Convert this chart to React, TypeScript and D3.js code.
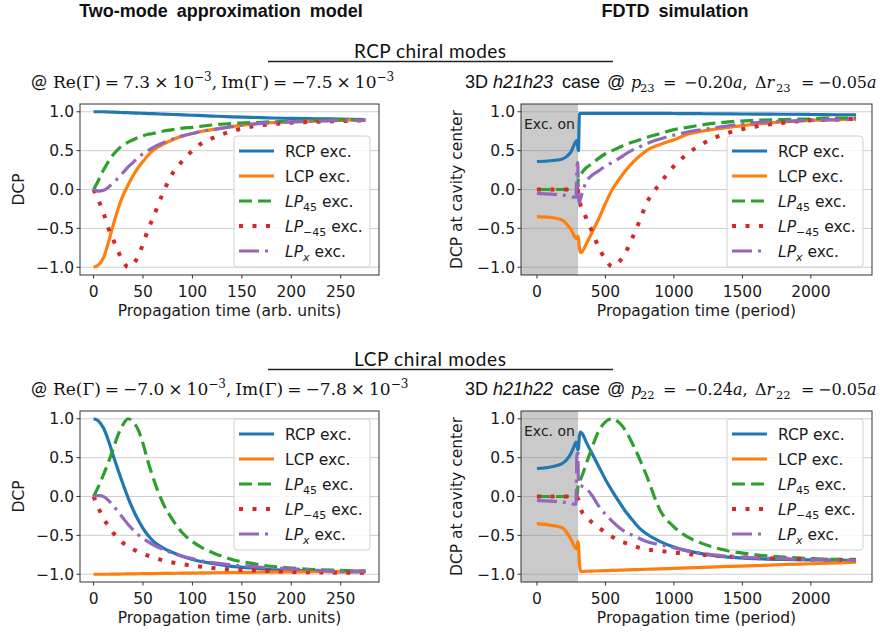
import React from "react";
import * as d3 from "d3";

// ---------------- data ----------------
// Two-mode approximation model (time in arb. units)
const T_MODEL = [0, 5, 10, 15, 20, 25, 30, 35, 40, 45, 50, 55, 60, 70, 80, 90, 100, 110, 120, 140, 160, 180, 200, 225, 250, 275];

// RCP chiral modes, model
const M1_RCP = [1.0, 1.0, 1.0, 0.997, 0.995, 0.993, 0.99, 0.988, 0.985, 0.982, 0.98, 0.977, 0.975, 0.97, 0.965, 0.96, 0.955, 0.95, 0.945, 0.935, 0.928, 0.92, 0.915, 0.91, 0.905, 0.9];
const M1_LCP = [-1.0, -0.97, -0.88, -0.68, -0.45, -0.24, -0.07, 0.06, 0.18, 0.28, 0.36, 0.44, 0.5, 0.58, 0.64, 0.69, 0.72, 0.75, 0.77, 0.81, 0.84, 0.86, 0.87, 0.88, 0.89, 0.9];
const M1_LP45 = [0, 0.12, 0.25, 0.36, 0.45, 0.52, 0.57, 0.61, 0.64, 0.67, 0.69, 0.71, 0.72, 0.75, 0.77, 0.79, 0.8, 0.815, 0.83, 0.85, 0.86, 0.87, 0.88, 0.89, 0.9, 0.9];
const M1_LPM45 = [0, -0.14, -0.3, -0.5, -0.65, -0.8, -0.93, -1.0, -0.96, -0.86, -0.7, -0.52, -0.37, -0.05, 0.21, 0.37, 0.5, 0.6, 0.66, 0.75, 0.81, 0.84, 0.86, 0.87, 0.88, 0.89];
const M1_LPX = [0, -0.02, -0.01, 0.03, 0.09, 0.15, 0.22, 0.29, 0.35, 0.41, 0.46, 0.5, 0.54, 0.6, 0.65, 0.69, 0.72, 0.75, 0.77, 0.81, 0.84, 0.86, 0.87, 0.88, 0.89, 0.89];

// LCP chiral modes, model
const M2_RCP = [1.0, 0.97, 0.88, 0.72, 0.52, 0.33, 0.15, -0.02, -0.17, -0.3, -0.41, -0.5, -0.57, -0.66, -0.72, -0.77, -0.81, -0.84, -0.86, -0.9, -0.92, -0.94, -0.95, -0.96, -0.97, -0.97];
const M2_LCP = [-1, -1, -1, -1, -0.999, -0.998, -0.997, -0.996, -0.995, -0.994, -0.993, -0.992, -0.991, -0.99, -0.988, -0.986, -0.985, -0.983, -0.981, -0.978, -0.975, -0.972, -0.97, -0.967, -0.963, -0.96];
const M2_LP45 = [0, 0.13, 0.28, 0.44, 0.62, 0.8, 0.93, 1.0, 0.96, 0.86, 0.68, 0.45, 0.25, -0.08, -0.3, -0.47, -0.58, -0.66, -0.72, -0.81, -0.86, -0.9, -0.92, -0.94, -0.95, -0.96];
const M2_LPM45 = [0, -0.15, -0.28, -0.38, -0.47, -0.54, -0.6, -0.64, -0.68, -0.71, -0.74, -0.76, -0.78, -0.82, -0.85, -0.87, -0.89, -0.905, -0.92, -0.94, -0.95, -0.96, -0.97, -0.975, -0.98, -0.98];
const M2_LPX = [0, 0.01, 0.0, -0.05, -0.12, -0.2, -0.28, -0.36, -0.43, -0.49, -0.54, -0.58, -0.62, -0.68, -0.73, -0.77, -0.8, -0.83, -0.85, -0.88, -0.9, -0.92, -0.93, -0.95, -0.96, -0.96];

// FDTD simulation (time in periods)
const T_FDTD = [0, 100, 180, 220, 250, 270, 285, 292, 298, 303, 310, 318, 330, 360, 400, 450, 500, 550, 600, 650, 700, 750, 800, 900, 1000, 1100, 1200, 1400, 1600, 1800, 2000, 2200, 2330];

// h21h23 case (RCP chiral modes)
const F1_RCP = [0.36, 0.37, 0.39, 0.43, 0.49, 0.57, 0.62, 0.63, 0.55, 0.5, 0.97, 0.98, 0.98, 0.98, 0.98, 0.98, 0.98, 0.98, 0.98, 0.98, 0.98, 0.98, 0.98, 0.98, 0.978, 0.976, 0.975, 0.973, 0.97, 0.968, 0.965, 0.962, 0.96];
const F1_LCP = [-0.35, -0.36, -0.39, -0.45, -0.52, -0.59, -0.63, -0.63, -0.6, -0.62, -0.75, -0.81, -0.8, -0.7, -0.56, -0.38, -0.18, 0.0, 0.13, 0.25, 0.35, 0.43, 0.5, 0.58, 0.64, 0.71, 0.75, 0.8, 0.84, 0.87, 0.89, 0.9, 0.91];
const F1_LP45 = [0, 0, 0, 0, 0, 0, 0, 0, 0.05, 0.15, 0.17, 0.19, 0.22, 0.28, 0.33, 0.4, 0.46, 0.5, 0.54, 0.58, 0.61, 0.64, 0.67, 0.72, 0.77, 0.8, 0.83, 0.87, 0.89, 0.9, 0.91, 0.92, 0.92];
const F1_LPM45 = [0, 0, 0, 0, 0, 0, 0, 0, 0, -0.05, -0.12, -0.2, -0.25, -0.37, -0.53, -0.74, -0.9, -0.99, -0.93, -0.8, -0.61, -0.4, -0.18, 0.08, 0.3, 0.46, 0.58, 0.73, 0.81, 0.86, 0.89, 0.9, 0.91];
const F1_LPX = [-0.05, -0.06, -0.07, -0.08, -0.09, -0.1, -0.1, 0.3, 0.35, -0.1, -0.17, -0.12, -0.05, 0.1, 0.18, 0.24, 0.3, 0.35, 0.4, 0.46, 0.51, 0.55, 0.59, 0.65, 0.7, 0.74, 0.77, 0.82, 0.86, 0.88, 0.89, 0.9, 0.9];

// h21h22 case (LCP chiral modes)
const F2_RCP = [0.36, 0.38, 0.42, 0.48, 0.56, 0.64, 0.7, 0.68, 0.6, 0.62, 0.78, 0.83, 0.81, 0.7, 0.56, 0.39, 0.22, 0.07, -0.07, -0.2, -0.31, -0.41, -0.48, -0.58, -0.65, -0.7, -0.735, -0.78, -0.8, -0.81, -0.815, -0.82, -0.82];
const F2_LCP = [-0.35, -0.37, -0.4, -0.47, -0.56, -0.63, -0.67, -0.66, -0.58, -0.62, -0.85, -0.96, -0.965, -0.962, -0.96, -0.957, -0.954, -0.951, -0.948, -0.945, -0.942, -0.939, -0.936, -0.93, -0.925, -0.918, -0.912, -0.9, -0.89, -0.875, -0.865, -0.855, -0.845];
const F2_LP45 = [0, 0, 0, 0, 0, 0, 0, 0, 0.1, 0.18, 0.2, 0.22, 0.27, 0.42, 0.62, 0.84, 0.96, 1.0, 0.95, 0.84, 0.67, 0.48, 0.27, -0.18, -0.39, -0.52, -0.6, -0.7, -0.75, -0.78, -0.8, -0.81, -0.81];
const F2_LPM45 = [0, 0, 0, 0, 0, 0, 0, 0, -0.03, -0.04, -0.08, -0.15, -0.2, -0.26, -0.33, -0.4, -0.46, -0.52, -0.57, -0.6, -0.63, -0.66, -0.68, -0.7, -0.72, -0.74, -0.75, -0.77, -0.79, -0.8, -0.81, -0.815, -0.82];
const F2_LPX = [-0.05, -0.06, -0.07, -0.08, -0.09, -0.1, -0.1, 0.55, 0.6, 0.2, 0.14, 0.14, 0.13, 0.1, 0.02, -0.12, -0.23, -0.32, -0.4, -0.46, -0.5, -0.54, -0.58, -0.62, -0.66, -0.7, -0.73, -0.77, -0.79, -0.8, -0.81, -0.82, -0.82];

const X_TICKS_MODEL = [0, 50, 100, 150, 200, 250];
const X_TICKS_FDTD = [0, 500, 1000, 1500, 2000];
const Y_TICKS = [-1.0, -0.5, 0.0, 0.5, 1.0];
const EXC_END = 300;
const SERIES_KEYS = ["RCP", "LCP", "LP45", "LPM45", "LPX"];

// ---------------- styles ----------------
const STYLE: Record<string, { color: string; dash?: string; w: number }> = {
  RCP: { color: "#1f77b4", w: 3.2 },
  LCP: { color: "#ff7f0e", w: 3.2 },
  LP45: { color: "#2ca02c", dash: "13 6", w: 3.2 },
  LPM45: { color: "#d62728", dash: "4 9.5", w: 4 },
  LPX: { color: "#9467bd", dash: "20 6 3 6", w: 3.2 },
};

const SANS = "'DejaVu Sans', sans-serif";
const FS = 15.5;

function LegendLabel({ k, x, y }: { k: string; x: number; y: number }) {
  const common = { x, y, fontFamily: SANS, fontSize: FS, fill: "#1a1a1a" } as any;
  if (k === "RCP") return <text {...common}>RCP exc.</text>;
  if (k === "LCP") return <text {...common}>LCP exc.</text>;
  const sub = k === "LP45" ? "45" : k === "LPM45" ? "\u221245" : "x";
  return (
    <text {...common}>
      <tspan fontStyle="italic">LP</tspan>
      <tspan fontSize={11} dy={4} fontStyle={k === "LPX" ? "italic" : "normal"}>{sub}</tspan>
      <tspan dy={-4}> exc.</tspan>
    </text>
  );
}

type Geo = { l: number; r: number; t: number; b: number };

function Panel(props: {
  id: string; g: Geo; times: number[]; data: number[][]; xTicks: number[]; xMax: number;
  yLabel: string; yLabelX: number; xLabel: string; shade: boolean; legendTop: number;
}) {
  const { id, g, times, data, xTicks, xMax, yLabel, yLabelX, xLabel, shade, legendTop } = props;
  const pad = xMax * 0.05;
  const x = d3.scaleLinear().domain([-pad, xMax + pad]).range([g.l, g.r]);
  const y = d3.scaleLinear().domain([-1.1, 1.1]).range([g.b, g.t]);
  const line = d3.line<number>().x((_, i) => x(times[i])).y((d) => y(d)).curve(d3.curveMonotoneX);
  const fmtY = d3.format(".1f");
  const legW = 136, legH = 131;
  const legL = g.r - 9 - legW;
  return (
    <g>
      <defs>
        <clipPath id={id}>
          <rect x={g.l} y={g.t} width={g.r - g.l} height={g.b - g.t} />
        </clipPath>
      </defs>
      {Y_TICKS.map((v) => (
        <line key={v} x1={g.l} x2={g.r} y1={y(v)} y2={y(v)} stroke="#cfcfcf" strokeWidth={1} />
      ))}
      {shade && (
        <rect x={g.l} y={g.t} width={x(EXC_END) - g.l} height={g.b - g.t} fill="#808080" fillOpacity={0.42} />
      )}
      {shade && (
        <text x={g.l + 3} y={g.t + 25} fontFamily={SANS} fontSize={14} fill="#222">Exc. on</text>
      )}
      <g clipPath={`url(#${id})`}>
        {SERIES_KEYS.map((k, i) => (
          <path key={k} d={line(data[i]) || ""} fill="none" stroke={STYLE[k].color} strokeWidth={STYLE[k].w}
            strokeDasharray={STYLE[k].dash} strokeLinejoin="round" />
        ))}
      </g>
      {/* legend */}
      <rect x={legL} y={legendTop} width={legW} height={legH} rx={3} fill="white" fillOpacity={0.8} stroke="#d0d0d0" strokeWidth={1} />
      {SERIES_KEYS.map((k, i) => {
        const cy = legendTop + 15 + i * 25;
        return (
          <g key={k}>
            <line x1={legL + 5} x2={legL + 40} y1={cy} y2={cy} stroke={STYLE[k].color} strokeWidth={STYLE[k].w}
              strokeDasharray={STYLE[k].dash} />
            <LegendLabel k={k} x={legL + 51} y={cy + 5.5} />
          </g>
        );
      })}
      <rect x={g.l} y={g.t} width={g.r - g.l} height={g.b - g.t} fill="none" stroke="#333" strokeWidth={1} />
      {Y_TICKS.map((v) => (
        <g key={v}>
          <line x1={g.l - 3.5} x2={g.l} y1={y(v)} y2={y(v)} stroke="#333" strokeWidth={1} />
          <text x={g.l - 6} y={y(v) + 5.5} textAnchor="end" fontFamily={SANS} fontSize={FS} fill="#1a1a1a">{fmtY(v)}</text>
        </g>
      ))}
      {xTicks.map((v) => (
        <g key={v}>
          <line x1={x(v)} x2={x(v)} y1={g.b} y2={g.b + 3.5} stroke="#333" strokeWidth={1} />
          <text x={x(v)} y={g.b + 22} textAnchor="middle" fontFamily={SANS} fontSize={FS} fill="#1a1a1a">{v}</text>
        </g>
      ))}
      <text x={(g.l + g.r) / 2} y={g.b + 41} textAnchor="middle" fontFamily={SANS} fontSize={FS} fill="#1a1a1a">{xLabel}</text>
      <text transform={`translate(${yLabelX},${(g.t + g.b) / 2}) rotate(-90)`} textAnchor="middle" dy={5}
        fontFamily={SANS} fontSize={FS} fill="#1a1a1a">{yLabel}</text>
    </g>
  );
}

const MATH = "'DejaVu Serif', 'Liberation Serif', serif";
const ARIAL = "'Liberation Sans', Arial, sans-serif";
const CAL = "Lato, 'Open Sans', sans-serif";

function ModelSub({ y, re, im }: { y: number; re: string; im: string }) {
  return (
    <text x={31} y={y} fontFamily={MATH} fontSize={17} fill="#111">
      <tspan fontFamily={CAL} fontSize={19}>@</tspan>
      <tspan dx={6}>Re(Γ)</tspan>
      <tspan dx={4}>=</tspan>
      <tspan dx={4}>{re}</tspan>
      <tspan dx={4}>×</tspan>
      <tspan dx={4}>10</tspan>
      <tspan fontSize={12} dy={-7}>−3</tspan>
      <tspan dy={7}>,</tspan>
      <tspan dx={4}>Im(Γ)</tspan>
      <tspan dx={4}>=</tspan>
      <tspan dx={4}>{im}</tspan>
      <tspan dx={4}>×</tspan>
      <tspan dx={4}>10</tspan>
      <tspan fontSize={12} dy={-7}>−3</tspan>
    </text>
  );
}

function FdtdSub({ y, hname, idx, p, dr }: { y: number; hname: string; idx: string; p: string; dr: string }) {
  const a = { fontFamily: ARIAL, fontSize: 18, fill: "#111" } as any;
  const m = { fontFamily: MATH, fontSize: 16, fill: "#111" } as any;
  const sub = { fontFamily: MATH, fontSize: 11.5, fill: "#111" } as any;
  return (
    <g>
      <text x={465} y={y} {...a}>3D</text>
      <text x={493} y={y} {...a} fontStyle="italic">{hname}</text>
      <text x={562} y={y} {...a}>case</text>
      <text x={607} y={y} {...a}>@</text>
      <text x={631} y={y} {...m} fontStyle="italic">p</text>
      <text x={640} y={y + 4} {...sub}>{idx}</text>
      <text x={663} y={y} {...m}>=</text>
      <text x={684} y={y} {...m}>−{p}<tspan fontStyle="italic">a</tspan>,</text>
      <text x={755} y={y} {...m}>Δ<tspan fontStyle="italic">r</tspan></text>
      <text x={776} y={y + 4} {...sub}>{idx}</text>
      <text x={801} y={y} {...m}>=</text>
      <text x={818} y={y} {...m}>−{dr}<tspan fontStyle="italic">a</tspan></text>
    </g>
  );
}

export default function App() {
  const G1 = { l: 80, r: 379, t: 104, b: 275 };
  const G2 = { l: 521, r: 872, t: 104, b: 275 };
  const G3 = { l: 80, r: 379, t: 411, b: 582 };
  const G4 = { l: 521, r: 872, t: 411, b: 582 };
  return (
    <svg width={881} height={634} style={{ position: "absolute", left: 0, top: 0, background: "white" }}>
      <rect x={0} y={0} width={881} height={634} fill="white" />
      <text x={221} y={17} textAnchor="middle" fontFamily={ARIAL} fontWeight="bold" fontSize={18} wordSpacing={4} fill="#111">Two-mode approximation model</text>
      <text x={675} y={17} textAnchor="middle" fontFamily={ARIAL} fontWeight="bold" fontSize={18} wordSpacing={4} fill="#111">FDTD simulation</text>

      <text x={354} y={58} fontFamily={CAL} fontSize={19} fill="#111" textLength={152} lengthAdjust="spacing">RCP chiral modes</text>
      <line x1={268} x2={613} y1={61.5} y2={61.5} stroke="#222" strokeWidth={1.3} />
      <text x={354} y={366} fontFamily={CAL} fontSize={19} fill="#111" textLength={152} lengthAdjust="spacing">LCP chiral modes</text>
      <line x1={268} x2={613} y1={369.5} y2={369.5} stroke="#222" strokeWidth={1.3} />

      <ModelSub y={88} re="7.3" im="−7.5" />
      <ModelSub y={395} re="−7.0" im="−7.8" />
      <FdtdSub y={88} hname="h21h23" idx="23" p="0.20" dr="0.05" />
      <FdtdSub y={395} hname="h21h22" idx="22" p="0.24" dr="0.05" />

      <Panel id="c1" g={G1} times={T_MODEL} data={[M1_RCP, M1_LCP, M1_LP45, M1_LPM45, M1_LPX]} xTicks={X_TICKS_MODEL}
        xMax={275} yLabel="DCP" yLabelX={19} xLabel="Propagation time (arb. units)" shade={false} legendTop={136} />
      <Panel id="c2" g={G2} times={T_FDTD} data={[F1_RCP, F1_LCP, F1_LP45, F1_LPM45, F1_LPX]} xTicks={X_TICKS_FDTD}
        xMax={2330} yLabel="DCP at cavity center" yLabelX={457} xLabel="Propagation time (period)" shade={true} legendTop={136} />
      <Panel id="c3" g={G3} times={T_MODEL} data={[M2_RCP, M2_LCP, M2_LP45, M2_LPM45, M2_LPX]} xTicks={X_TICKS_MODEL}
        xMax={275} yLabel="DCP" yLabelX={19} xLabel="Propagation time (arb. units)" shade={false} legendTop={419} />
      <Panel id="c4" g={G4} times={T_FDTD} data={[F2_RCP, F2_LCP, F2_LP45, F2_LPM45, F2_LPX]} xTicks={X_TICKS_FDTD}
        xMax={2330} yLabel="DCP at cavity center" yLabelX={457} xLabel="Propagation time (period)" shade={true} legendTop={419} />
    </svg>
  );
}
